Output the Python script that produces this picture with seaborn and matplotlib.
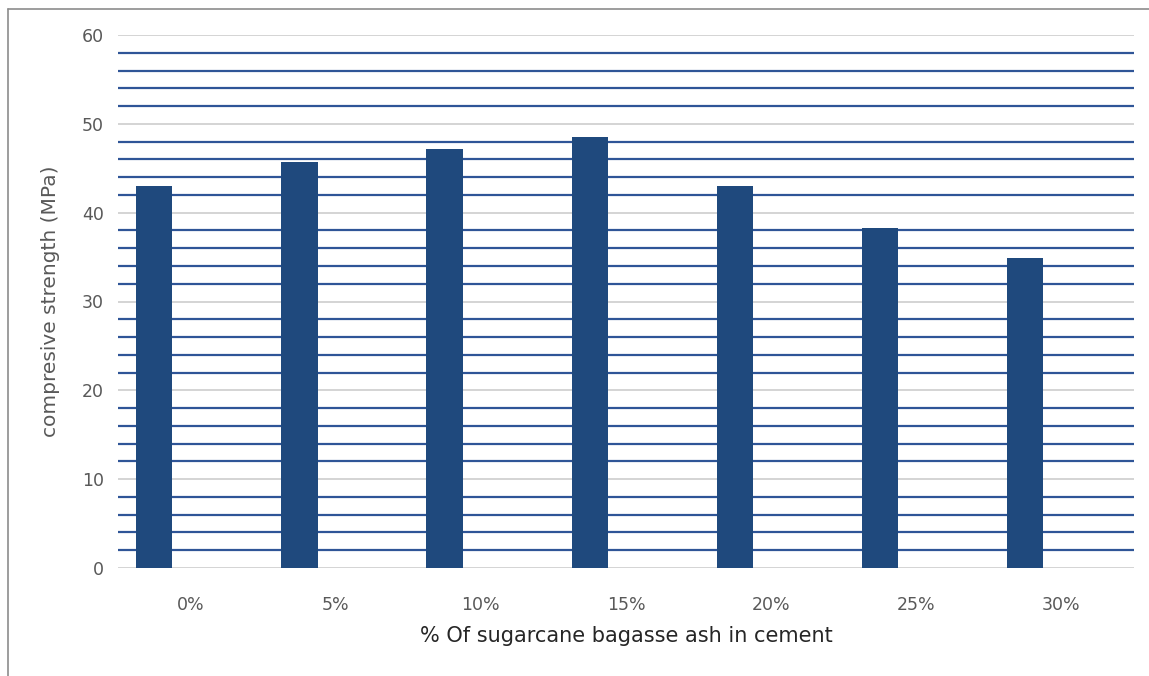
import matplotlib
matplotlib.use("Agg")
import matplotlib.pyplot as plt
from matplotlib.ticker import MultipleLocator
from matplotlib.lines import Line2D
import seaborn as sns
import pandas as pd

categories = ["0%", "5%", "10%", "15%", "20%", "25%", "30%"]
strength = [43.0, 45.7, 47.2, 48.5, 43.0, 38.3, 34.9]

series_names = ["s1", "s2", "s3"]
rows = []
for c, v in zip(categories, strength):
    rows.append({"cat": c, "val": v, "series": "s1"})
    rows.append({"cat": c, "val": 0.0, "series": "s2"})
    rows.append({"cat": c, "val": 0.0, "series": "s3"})
df = pd.DataFrame(rows)

sns.set_theme(style="white")
plt.rcParams["font.family"] = ["DejaVu Sans"]

fig = plt.figure(figsize=(11.49, 6.76), dpi=100)
ax = fig.add_axes([118 / 1149, 1 - 568 / 676, (1134 - 118) / 1149, (568 - 35) / 676])

bar_color = "#1F497D"
sns.barplot(data=df, x="cat", y="val", hue="series", hue_order=series_names,
            palette=[bar_color, bar_color, bar_color], saturation=1, width=0.75,
            linewidth=0, legend=False, ax=ax, zorder=3)

ax.set_xlim(-0.5, 6.5)
ax.set_ylim(0, 60)
ax.yaxis.set_major_locator(MultipleLocator(10))
ax.yaxis.set_minor_locator(MultipleLocator(2))
ax.grid(True, axis="y", which="major", color="#D4D4D4", linewidth=1.4, zorder=1)
ax.grid(True, axis="y", which="minor", color="#2F5597", linewidth=1.6, zorder=1)
ax.set_axisbelow(True)
for s in ax.spines.values():
    s.set_visible(False)

ax.tick_params(axis="both", which="both", length=0, colors="#595959", labelsize=12.5)
ax.tick_params(axis="y", pad=10)
ax.tick_params(axis="x", pad=20)

ax.set_xlabel("% Of sugarcane bagasse ash in cement", fontsize=15, color="#262626", labelpad=9)
ax.set_ylabel("compresive strength (MPa)", fontsize=14.5, color="#595959", labelpad=16)

fig.add_artist(Line2D([8 / 1149, 8 / 1149], [0, 1 - 9 / 676], color="#8C8C8C", linewidth=1.2, transform=fig.transFigure))
fig.add_artist(Line2D([8 / 1149, 1], [1 - 9 / 676, 1 - 9 / 676], color="#8C8C8C", linewidth=1.2, transform=fig.transFigure))

fig.savefig("out.png", dpi=100, facecolor="white")
